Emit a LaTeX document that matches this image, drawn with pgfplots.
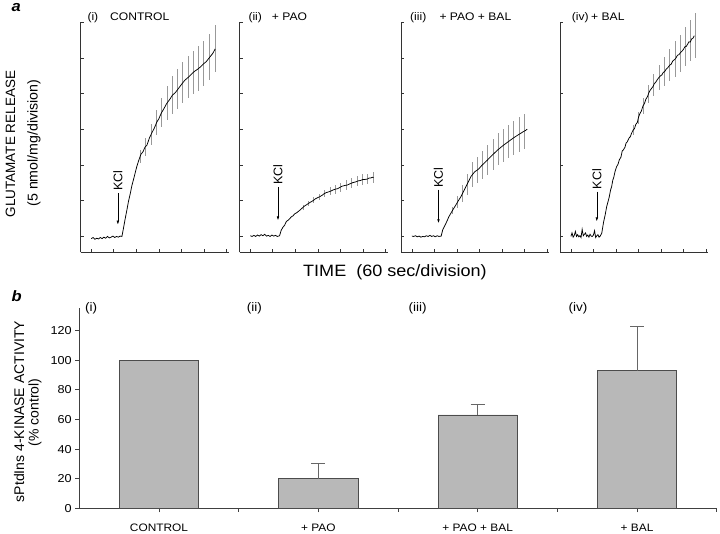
\documentclass[border=0pt]{standalone}
\usepackage{fontspec}
\setmainfont{Liberation Sans}[FakeStretch=1.1]
\newfontfamily\rotfont{Liberation Sans}
\usepackage{pgfplots}
\pgfplotsset{compat=1.18}
\usetikzlibrary{arrows.meta}

\pgfplotsset{
  trace/.style={scale only axis, anchor=south west, width=148pt, height=230pt,
    xmin=-0.47, xmax=6.1, ymin=-0.45, ymax=6,
    axis x line*=bottom, axis y line*=left,
    axis line style={black!80, line width=0.8pt, -},
    tick align=inside, major tick length=3pt,
    tick style={black!80, line width=0.7pt},
    xtick={0,...,6}, ytick={0,...,6}, xticklabels={}, yticklabels={},
    clip=false},
  sem/.style={draw=none, mark=none, forget plot,
    error bars/.cd, y dir=both, y explicit, error mark=none,
    error bar style={draw=black!40, line width=0.9pt}},
  curve/.style={black, line width=0.75pt, mark=none},
}
\tikzset{kcl/.style={-{Latex[length=4pt,width=2.6pt]}, black, line width=0.6pt},
  kcltext/.style={rotate=90, anchor=west, inner sep=0pt, font=\rotfont\fontsize{12.5}{14}\selectfont}}

\begin{document}
\begin{tikzpicture}
\useasboundingbox (0,0) rectangle (720pt,533pt);

% (i) control
\begin{axis}[trace, at={(80.7pt,280.5pt)}]
\addplot[sem] table[x=x, y=y, y error=e] {
x y e
2.17 2.24 0.19
2.41 2.50 0.25
2.66 2.86 0.30
2.90 3.20 0.36
3.13 3.48 0.41
3.37 3.75 0.48
3.62 3.97 0.54
3.84 4.13 0.56
4.06 4.31 0.58
4.30 4.47 0.60
4.54 4.60 0.61
4.76 4.71 0.62
4.99 4.85 0.63
5.25 5.03 0.64
5.50 5.26 0.66
};
\addplot[curve] coordinates {(0,-0.06)(0.08,-0.03)(0.16,-0.08)(0.24,-0.05)(0.32,-0.07)(0.4,-0.03)(0.48,-0.06)(0.56,-0.02)(0.64,-0.05)(0.72,0.0)(0.8,-0.04)(0.88,-0.02)(0.96,0.01)(1.04,-0.03)(1.12,0.0)(1.2,-0.02)(1.28,0.01)(1.36,0.0)
(1.42,0.2)(1.5,0.48)(1.58,0.74)(1.65,0.98)(1.73,1.2)(1.8,1.42)(1.9,1.66)(2.02,1.96)(2.1,2.12)(2.2,2.3)(2.3,2.38)(2.38,2.5)(2.47,2.56)(2.58,2.76)(2.7,2.92)(2.8,3.04)(2.91,3.21)(3.0,3.3)(3.1,3.45)(3.22,3.58)(3.35,3.73)(3.48,3.84)(3.6,3.96)(3.74,4.04)(3.87,4.15)(4.0,4.26)(4.15,4.38)(4.3,4.46)(4.46,4.56)(4.58,4.63)(4.7,4.68)(4.84,4.75)(4.98,4.84)(5.1,4.9)(5.2,4.98)(5.3,5.06)(5.4,5.14)(5.5,5.26)};
\draw[kcl] (1.18,1.21) -- (1.18,0.33);
\node[kcltext] at (1.18,1.27) {KCl};
\end{axis}

% (ii) + PAO
\begin{axis}[trace, at={(239.7pt,280.5pt)}]
\addplot[sem] table[x=x, y=y, y error=e] {
x y e
2.34 0.81 0.06
2.58 0.92 0.07
2.82 1.02 0.08
3.06 1.11 0.09
3.30 1.20 0.10
3.54 1.27 0.11
3.78 1.32 0.12
4.02 1.38 0.12
4.26 1.44 0.13
4.50 1.50 0.14
4.74 1.55 0.14
4.98 1.60 0.15
5.22 1.61 0.15
5.47 1.65 0.16
};
\addplot[curve] coordinates {(0,0.02)(0.08,0.0)(0.16,0.03)(0.24,0.0)(0.32,0.04)(0.4,0.01)(0.48,0.05)(0.56,0.02)(0.64,0.06)(0.72,0.01)(0.8,0.03)(0.88,0.0)(0.96,0.04)(1.04,0.01)(1.12,0.03)(1.2,0.0)(1.3,0.02)
(1.37,0.17)(1.45,0.26)(1.52,0.31)(1.6,0.42)(1.67,0.45)(1.74,0.49)(1.82,0.55)(1.9,0.58)(1.98,0.64)(2.05,0.66)(2.15,0.71)(2.26,0.77)(2.38,0.84)(2.5,0.89)(2.64,0.95)(2.78,1.0)(2.9,1.06)(3.0,1.09)(3.1,1.12)(3.2,1.16)(3.28,1.2)(3.37,1.23)(3.48,1.25)(3.6,1.28)(3.7,1.31)(3.8,1.33)(3.88,1.34)(3.96,1.37)(4.08,1.41)(4.2,1.43)(4.3,1.44)(4.4,1.47)(4.48,1.49)(4.55,1.51)(4.68,1.53)(4.8,1.56)(4.9,1.57)(5.0,1.6)(5.1,1.6)(5.2,1.61)(5.28,1.64)(5.35,1.64)(5.42,1.66)(5.47,1.65)};
\draw[kcl] (1.23,1.39) -- (1.23,0.45);
\node[kcltext] at (1.23,1.45) {KCl};
\end{axis}

% (iii) + PAO + BAL
\begin{axis}[trace, at={(401.3pt,280.5pt)}]
\addplot[sem] table[x=x, y=y, y error=e] {
x y e
1.81 0.73 0.10
2.03 0.96 0.17
2.25 1.21 0.24
2.47 1.46 0.30
2.69 1.74 0.34
2.91 1.87 0.37
3.13 2.00 0.40
3.35 2.14 0.42
3.60 2.30 0.44
3.84 2.44 0.45
4.06 2.55 0.46
4.29 2.66 0.47
4.53 2.77 0.48
4.76 2.86 0.48
5.00 2.95 0.49
};
\addplot[curve] coordinates {(0,0.01)(0.08,0.0)(0.16,0.02)(0.24,-0.01)(0.32,0.01)(0.4,-0.02)(0.48,0.0)(0.56,-0.01)(0.64,0.02)(0.72,0.0)(0.8,0.03)(0.88,0.0)(0.96,0.02)(1.04,-0.01)(1.12,0.02)(1.2,0.0)(1.3,0.01)
(1.37,0.19)(1.46,0.3)(1.55,0.42)(1.64,0.55)(1.73,0.65)(1.84,0.77)(1.95,0.88)(2.06,1.0)(2.18,1.12)(2.3,1.27)(2.4,1.4)(2.52,1.55)(2.62,1.68)(2.72,1.76)(2.8,1.82)(2.9,1.86)(2.99,1.91)(3.1,1.99)(3.2,2.05)(3.35,2.14)(3.5,2.24)(3.65,2.33)(3.8,2.42)(3.95,2.5)(4.09,2.57)(4.22,2.63)(4.35,2.69)(4.48,2.75)(4.6,2.8)(4.72,2.85)(4.85,2.9)(4.95,2.94)(5.04,2.97)(5.12,3.01)};
\draw[kcl] (1.18,1.31) -- (1.18,0.37);
\node[kcltext] at (1.18,1.37) {KCl};
\end{axis}

% (iv) + BAL
\begin{axis}[trace, at={(560.3pt,280.5pt)}, ytick={0,2,4,6}]
\addplot[sem] table[x=x, y=y, y error=e] {
x y e
2.77 2.99 0.14
2.99 3.32 0.18
3.21 3.66 0.22
3.43 3.99 0.26
3.67 4.25 0.30
3.91 4.45 0.35
4.16 4.63 0.40
4.38 4.80 0.45
4.63 4.98 0.50
4.85 5.14 0.52
5.09 5.32 0.55
5.31 5.49 0.58
5.53 5.63 0.63
};
\addplot[curve] coordinates {(0,0.0)(0.05,0.1)(0.1,-0.02)(0.15,0.03)(0.2,0.14)(0.25,0.0)(0.3,0.05)(0.35,-0.01)(0.4,0.02)(0.45,-0.03)(0.5,0.2)(0.55,0.02)(0.6,0.06)(0.65,0.1)(0.7,0.0)(0.75,0.04)(0.8,-0.02)(0.85,0.06)(0.9,0.01)(0.95,0.0)(1.0,0.04)(1.05,0.16)(1.1,-0.03)(1.15,0.02)(1.2,0.05)(1.25,-0.02)(1.3,0.01)
(1.37,0.09)(1.45,0.4)(1.52,0.6)(1.59,0.84)(1.65,0.98)(1.7,1.1)(1.76,1.3)(1.81,1.4)(1.86,1.58)(1.9,1.65)(1.96,1.82)(2.03,1.96)(2.09,2.02)(2.15,2.15)(2.22,2.22)(2.28,2.4)(2.32,2.42)(2.4,2.5)(2.45,2.62)(2.5,2.65)(2.58,2.76)(2.64,2.8)(2.69,2.89)(2.76,2.98)(2.82,3.02)(2.88,3.14)(2.95,3.2)(3.0,3.34)(3.06,3.44)(3.13,3.52)(3.2,3.66)(3.26,3.72)(3.33,3.85)(3.4,3.92)(3.46,4.03)(3.52,4.1)(3.58,4.15)(3.64,4.2)(3.7,4.28)(3.77,4.33)(3.84,4.4)(3.9,4.45)(3.97,4.5)(4.04,4.53)(4.1,4.6)(4.16,4.62)(4.24,4.7)(4.3,4.73)(4.38,4.8)(4.45,4.83)(4.52,4.92)(4.6,4.96)(4.66,5.0)(4.73,5.08)(4.8,5.1)(4.87,5.16)(4.94,5.2)(5.0,5.25)(5.06,5.32)(5.12,5.33)(5.19,5.4)(5.24,5.46)(5.3,5.45)(5.36,5.54)(5.42,5.56)(5.48,5.63)};
\draw[kcl] (1.15,1.26) -- (1.15,0.42);
\node[kcltext] at (1.15,1.32) {KCl};
\end{axis}

% panel b: bar chart
\begin{axis}[at={(79.3pt,24.7pt)}, anchor=south west, scale only axis,
  width=637.4pt, height=200pt,
  xmin=-0.5, xmax=3.5, ymin=0, ymax=135,
  axis x line*=bottom, axis y line*=left,
  axis line style={black!75, line width=0.9pt, -},
  tick align=outside, major tick length=4pt, minor tick length=3.5pt,
  tick style={black!75, line width=0.8pt},
  xtick={0,1,2,3}, minor xtick={0.5,1.5,2.5,3.5},
  xticklabels={CONTROL,{+ PAO},{+ PAO + BAL},{+ BAL}},
  ytick={0,20,...,120},
  /pgf/number format/assume math mode=true,
  yticklabel style={font=\fontsize{11.5}{13}\selectfont},
  xticklabel style={font=\fontsize{10.8}{13}\selectfont, yshift=-8pt},
  ybar, bar width=79.3pt, bar shift=0pt]
\addplot[fill=black!28, draw=black!70, line width=0.8pt]
  table[x=x, y=y] {
x y
0 100
};
\addplot[fill=black!28, draw=black!70, line width=0.8pt,
  error bars/.cd, y dir=plus, y explicit,
  error bar style={black!60, line width=0.8pt},
  error mark options={rotate=90, black!60, line width=0.8pt, mark size=7pt}]
  table[x=x, y=y, y error=e] {
x y e
1 20 10
2 63 7
3 93 30
};
\end{axis}

% panel letters and texts
\node[anchor=base west, inner sep=0pt, font=\fontsize{15}{17}\selectfont\bfseries\itshape] at (11.5pt,521.5pt) {a};
\node[anchor=base west, inner sep=0pt, font=\fontsize{15}{17}\selectfont\bfseries\itshape] at (11.5pt,231.5pt) {b};

\begin{scope}[every node/.style={anchor=base west, inner sep=0pt, font=\fontsize{11}{14}\selectfont}]
\node at (87.3pt,512.5pt) {(i)};
\node at (110pt,512.5pt) {CONTROL};
\node at (248.3pt,512.5pt) {(ii)};
\node at (271.7pt,512.5pt) {+ PAO};
\node at (410pt,512.5pt) {(iii)};
\node at (439.3pt,512.5pt) {+ PAO + BAL};
\node at (571.7pt,512.5pt) {(iv)};
\node at (591pt,512.5pt) {+ BAL};
\end{scope}
\begin{scope}[every node/.style={anchor=base west, inner sep=0pt, font=\fontsize{12.3}{14}\selectfont}]
\node at (85pt,221pt) {(i)};
\node at (246.7pt,221pt) {(ii)};
\node at (408.3pt,221pt) {(iii)};
\node at (568.3pt,221pt) {(iv)};
\end{scope}

\node[anchor=base west, inner sep=0pt, font=\fontsize{16.4}{19}\selectfont] at (303pt,256.3pt) {TIME\ \ (60 sec/division)};

\node[rotate=90, inner sep=0pt, font=\rotfont\fontsize{13.5}{16}\selectfont] at (10.5pt,389pt) {GLUTAMATE RELEASE};
\node[rotate=90, inner sep=0pt, font=\rotfont\fontsize{14.2}{16}\selectfont] at (34pt,390pt) {(5 nmol/mg/division)};
\node[rotate=90, inner sep=0pt, font=\rotfont\fontsize{14}{16}\selectfont] at (19pt,121.5pt) {sPtdIns 4-KINASE ACTIVITY};
\node[rotate=90, inner sep=0pt, font=\rotfont\fontsize{14}{16}\selectfont] at (35pt,120.5pt) {(\% control)};
\end{tikzpicture}
\end{document}
